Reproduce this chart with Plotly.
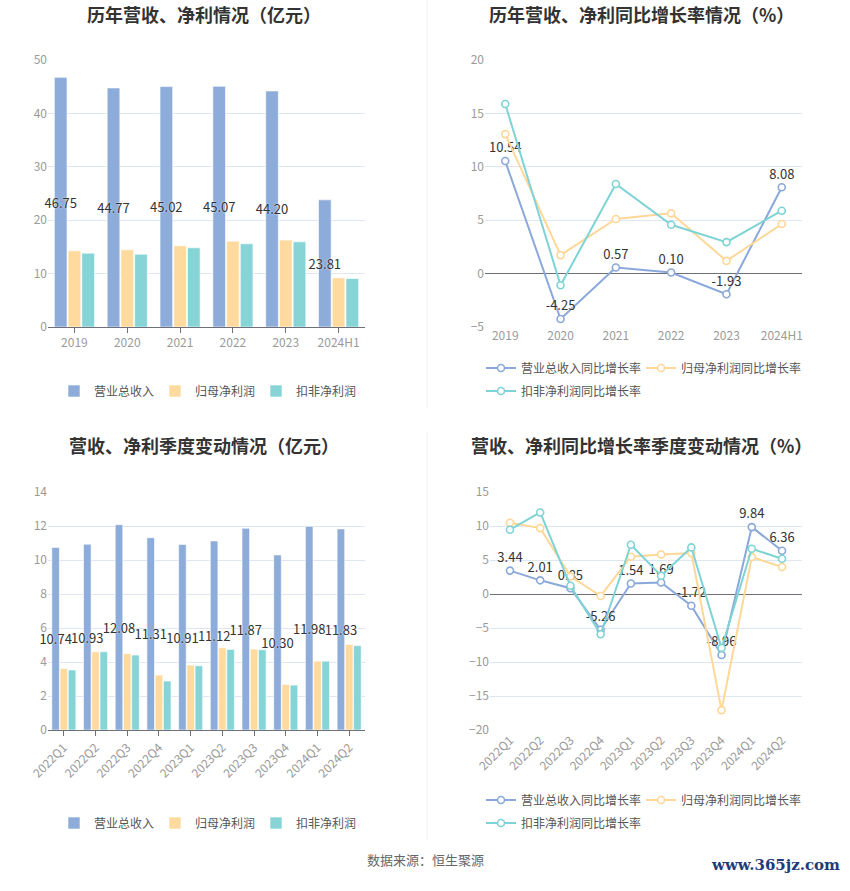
import plotly.graph_objects as go

# 年度数据（亿元 / %）
years = ["2019", "2020", "2021", "2022", "2023", "2024H1"]
revenue = [46.75, 44.77, 45.02, 45.07, 44.20, 23.81]
net_profit = [14.26, 14.45, 15.20, 16.08, 16.27, 9.20]
deducted_profit = [13.83, 13.64, 14.83, 15.58, 15.95, 9.08]

revenue_yoy = [10.54, -4.25, 0.57, 0.10, -1.93, 8.08]
net_profit_yoy = [13.06, 1.73, 5.11, 5.64, 1.19, 4.64]
deducted_yoy = [15.88, -1.09, 8.39, 4.57, 2.95, 5.89]

# 季度数据
quarters = ["2022Q1", "2022Q2", "2022Q3", "2022Q4", "2023Q1",
            "2023Q2", "2023Q3", "2023Q4", "2024Q1", "2024Q2"]
q_revenue = [10.74, 10.93, 12.08, 11.31, 10.91, 11.12, 11.87, 10.30, 11.98, 11.83]
q_net_profit = [3.62, 4.60, 4.49, 3.23, 3.82, 4.84, 4.76, 2.68, 4.05, 5.03]
q_deducted = [3.53, 4.60, 4.41, 2.88, 3.78, 4.74, 4.72, 2.64, 4.05, 4.96]

q_revenue_yoy = [3.44, 2.01, 0.85, -5.26, 1.54, 1.69, -1.72, -8.96, 9.84, 6.36]
q_net_profit_yoy = [10.47, 9.69, 2.59, -0.29, 5.48, 5.82, 6.02, -17.08, 5.43, 3.96]
q_deducted_yoy = [9.45, 11.99, 1.22, -5.92, 7.24, 2.69, 6.85, -7.93, 6.66, 5.19]

BLUE = "#8DACDA"
ORANGE = "#FFDA9E"
TEAL = "#86D4D6"
FONT = "Noto Sans CJK SC"
W, H = 850, 891

fig = go.Figure()
label_font = dict(size=13, color="#333", family=FONT,
                  shadow="0px 0px 2px #fff")


def add_bars(x, series, xa, ya, leg):
    names = ["营业总收入", "归母净利润", "扣非净利润"]
    colors = [BLUE, ORANGE, TEAL]
    for i, (name, vals, col) in enumerate(zip(names, series, colors)):
        fig.add_trace(go.Bar(
            x=x, y=vals, name=name, xaxis=xa, yaxis=ya, legend=leg,
            marker=dict(color=col, line=dict(color="rgba(255,255,255,0.6)", width=1)),
            text=[f"{v:.2f}" for v in vals] if i == 0 else None,
            textposition="inside" if i == 0 else "none",
            insidetextanchor="middle", constraintext="none", textangle=0,
            textfont=label_font, hoverinfo="y", cliponaxis=False,
        ))


def add_lines(x, series, xa, ya, legs):
    names = ["营业总收入同比增长率", "归母净利润同比增长率", "扣非净利润同比增长率"]
    colors = ["#8AA8DA", "#FFD796", "#7ED3D5"]
    for i, (name, vals, col) in enumerate(zip(names, series, colors)):
        fig.add_trace(go.Scatter(
            x=x, y=vals, name=name, xaxis=xa, yaxis=ya, legend=legs[i],
            mode="lines+markers+text" if i == 0 else "lines+markers",
            line=dict(color=col, width=2),
            marker=dict(symbol="circle", size=7, color="#fff",
                        line=dict(color=col, width=1.6)),
            text=[f"{v:.2f}" for v in vals] if i == 0 else None,
            textposition="top center", textfont=label_font,
            cliponaxis=False,
        ))


add_bars(years, [revenue, net_profit, deducted_profit], "x", "y", "legend")
add_lines(years, [revenue_yoy, net_profit_yoy, deducted_yoy], "x2", "y2",
          ["legend2", "legend2", "legend5"])
add_bars(quarters, [q_revenue, q_net_profit, q_deducted], "x3", "y3", "legend3")
add_lines(quarters, [q_revenue_yoy, q_net_profit_yoy, q_deducted_yoy], "x4", "y4",
          ["legend4", "legend4", "legend6"])


def px_x(p):
    return p / W


def px_y(p):
    return 1 - p / H


grid = "#E0E6F1"
tick_font = dict(size=12, color="#9A9A9A", family=FONT)

xa_common = dict(type="category", tickfont=tick_font, showgrid=False,
                 linecolor="#6E7079", ticks="outside", ticklen=5,
                 tickcolor="#6E7079", fixedrange=True, automargin=False)
ya_common = dict(gridcolor=grid, tickfont=tick_font, zeroline=False,
                 showline=False, ticks="", fixedrange=True, automargin=False)

top = [px_y(327), px_y(60)]
bottom = [px_y(730), px_y(492)]

fig.update_layout(
    width=W, height=H, margin=dict(l=0, r=0, t=0, b=0, autoexpand=False),
    paper_bgcolor="#fff", plot_bgcolor="#fff",
    font=dict(family=FONT, color="#333"),
    barmode="group", bargap=0.22, bargroupgap=0.08,
    xaxis=dict(domain=[px_x(48), px_x(365)], anchor="y", showline=True, **xa_common),
    yaxis=dict(domain=top, anchor="x", range=[0, 50], dtick=10, **ya_common),
    xaxis2=dict(domain=[px_x(485), px_x(802)], anchor="y2", showline=False, **xa_common),
    yaxis2=dict(domain=top, anchor="x2", range=[-5, 20], dtick=5, **{**ya_common, "zeroline": True},
                zerolinecolor="#6E7079", zerolinewidth=1),
    xaxis3=dict(domain=[px_x(48), px_x(365)], anchor="y3", showline=True,
                tickangle=-45, **xa_common),
    yaxis3=dict(domain=bottom, anchor="x3", range=[0, 14], dtick=2, **ya_common),
    xaxis4=dict(domain=[px_x(490), px_x(802)], anchor="y4", showline=False,
                tickangle=-45, **xa_common),
    yaxis4=dict(domain=bottom, anchor="x4", range=[-20, 15], dtick=5, **{**ya_common, "zeroline": True},
                zerolinecolor="#6E7079", zerolinewidth=1),
    showlegend=True,
)
fig.update_xaxes(ticks="", selector=dict(anchor="y2"))
fig.update_xaxes(ticks="", selector=dict(anchor="y4"))

leg_font = dict(size=12, color="#555", family=FONT)
leg_base = dict(orientation="h", font=leg_font, bgcolor="rgba(0,0,0,0)",
                xanchor="left", yanchor="middle", itemclick=False,
                itemdoubleclick=False, entrywidth=56, tracegroupgap=0)
fig.update_layout(
    legend=dict(x=px_x(54), y=px_y(391), **leg_base),
    legend2=dict(x=px_x(481), y=px_y(368), **{**leg_base, "entrywidth": 115}),
    legend5=dict(x=px_x(481), y=px_y(391), **{**leg_base, "entrywidth": 115}),
    legend3=dict(x=px_x(54), y=px_y(823), **leg_base),
    legend4=dict(x=px_x(481), y=px_y(800), **{**leg_base, "entrywidth": 115}),
    legend6=dict(x=px_x(481), y=px_y(823), **{**leg_base, "entrywidth": 115}),
)

titles = [
    ("历年营收、净利情况（亿元）", 204, 14),
    ("历年营收、净利同比增长率情况（%）", 641, 14),
    ("营收、净利季度变动情况（亿元）", 204, 445),
    ("营收、净利同比增长率季度变动情况（%）", 641, 445),
]
for txt, cx, cy in titles:
    fig.add_annotation(text=f"<b>{txt}</b>", x=px_x(cx), y=px_y(cy), xref="paper",
                       yref="paper", showarrow=False, xanchor="center", yanchor="middle",
                       font=dict(size=18, color="#333", family=FONT))

fig.add_annotation(text="数据来源：恒生聚源", x=px_x(425), y=px_y(871), xref="paper",
                   yref="paper", showarrow=False, font=dict(size=13, color="#666", family=FONT))
fig.add_annotation(text="<b>www.365jz.com</b>", x=px_x(842), y=px_y(876), xref="paper",
                   yref="paper", showarrow=False, xanchor="right",
                   font=dict(size=15, color="#1F3C78", family="DejaVu Serif"))

# 分隔线
for y0, y1 in [(0, 408), (432, 840)]:
    fig.add_shape(type="line", xref="paper", yref="paper", x0=px_x(427), x1=px_x(427),
                  y0=px_y(y0), y1=px_y(y1), line=dict(color="#EEEEEE", width=1))

# 去掉页面默认的 8px 边距，让图正好铺满窗口
fig.write_html("out.html", config={"displayModeBar": False},
               post_script="document.body.style.margin='0px';")
